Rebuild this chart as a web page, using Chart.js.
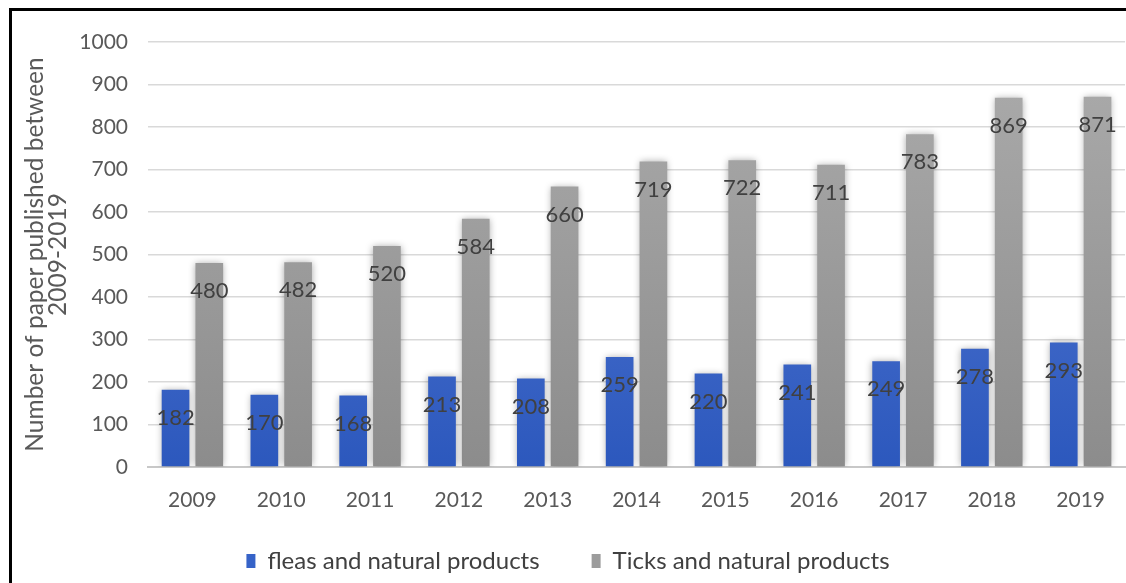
<!DOCTYPE html>
<html>
<head>
<meta charset="utf-8">
<script src="https://cdn.jsdelivr.net/npm/chart.js@4/dist/chart.umd.min.js"></script>
<style>
  html, body { margin: 0; padding: 0; background: #fff; }
  #wrap { position: relative; width: 1126px; height: 583px; overflow: hidden; }
  #frame { position: absolute; left: 9px; top: 8px; width: 1200px; height: 700px;
           border-left: 3px solid #000; border-top: 3px solid #000; }
  canvas { position: absolute; left: 0; top: 0; }
</style>
</head>
<body>
<div id="wrap">
  <div id="frame"></div>
  <canvas id="myChart" width="1126" height="583"></canvas>
</div>
<script>
// values
var years = ['2009', '2010', '2011', '2012', '2013', '2014', '2015', '2016', '2017', '2018', '2019'];
var fleas = [182, 170, 168, 213, 208, 259, 220, 241, 249, 278, 293];
var ticks = [480, 482, 520, 584, 660, 719, 722, 711, 783, 869, 871];
var yTicks = [0, 100, 200, 300, 400, 500, 600, 700, 800, 900, 1000];

var FONT = 'Lato, "Open Sans", sans-serif';

function grad(ctx, top, bottom) {
  var area = ctx.chart.chartArea;
  if (!area) return bottom;
  var g = ctx.chart.ctx.createLinearGradient(0, area.top, 0, area.bottom);
  g.addColorStop(0, top);
  g.addColorStop(1, bottom);
  return g;
}

// soft glow around the bars
var barShadow = {
  id: 'barShadow',
  beforeDatasetsDraw: function(chart) {
    var c = chart.ctx;
    c.save();
    c.shadowColor = 'rgba(0,0,0,0.35)';
    c.shadowBlur = 7;
  },
  afterDatasetsDraw: function(chart) {
    chart.ctx.restore();
  }
};

// value labels a little below each bar top
var valueLabels = {
  id: 'valueLabels',
  afterDatasetsDraw: function(chart) {
    var c = chart.ctx;
    c.save();
    c.font = '22px ' + FONT;
    c.fillStyle = '#404040';
    c.textAlign = 'center';
    c.textBaseline = 'middle';
    chart.data.datasets.forEach(function(ds, i) {
      chart.getDatasetMeta(i).data.forEach(function(bar, j) {
        c.fillText(ds.data[j], bar.x, bar.y + 28);
      });
    });
    c.restore();
  }
};

// x axis box is kept short so the wide legend fits; let its labels spill below
var xLabelRoom = {
  id: 'xLabelRoom',
  afterLayout: function(chart) {
    chart.scales.x.bottom = chart.height;
  }
};

var ctx = document.getElementById('myChart').getContext('2d');
var chart = new Chart(ctx, {
  type: 'bar',
  data: {
    labels: years,
    datasets: [{
      label: 'fleas and natural products',
      data: fleas,
      backgroundColor: function(c) { return grad(c, '#5d80d8', '#2c58bd'); }
    }, {
      label: 'Ticks and natural products',
      data: ticks,
      backgroundColor: function(c) { return grad(c, '#acacac', '#8c8c8c'); }
    }]
  },
  options: {
    responsive: false,
    animation: false,
    layout: { padding: { left: 10, top: 42, right: 0, bottom: 0 } },
    datasets: {
      bar: { categoryPercentage: 0.76, barPercentage: 0.82 }
    },
    plugins: {
      tooltip: { enabled: false },
      legend: {
        position: 'bottom',
        labels: {
          font: { family: FONT, size: 24 },
          color: '#404040',
          boxWidth: 9,
          boxHeight: 14,
          padding: 52,
          generateLabels: function(chart) {
            var cols = ['#3663c8', '#9c9c9c'];
            return chart.data.datasets.map(function(ds, i) {
              return { text: ds.label, fillStyle: cols[i], strokeStyle: cols[i], lineWidth: 0, datasetIndex: i, fontColor: '#404040' };
            });
          }
        }
      }
    },
    scales: {
      x: {
        grid: { display: false, drawTicks: false },
        border: { color: '#c8c8c8', width: 2 },
        ticks: { font: { family: FONT, size: 21 }, color: '#595959', padding: 21 },
        afterFit: function(s) { s.height = 30; }
      },
      y: {
        min: 0,
        max: 1000,
        afterBuildTicks: function(s) { s.ticks = yTicks.map(function(v) { return { value: v }; }); },
        grid: { color: '#d9d9d9', lineWidth: 1.5, drawTicks: false },
        border: { display: false },
        ticks: {
          font: { family: FONT, size: 21 },
          color: '#595959',
          padding: 20,
          callback: function(v) { return String(v); }
        },
        title: {
          display: true,
          text: ['Number of paper published between', '2009-2019'],
          font: { family: FONT, size: 24.5, lineHeight: 0.95 },
          color: '#595959',
          padding: { top: 13, bottom: 0 }
        },
        afterFit: function(s) { s.width = 138; }
      }
    }
  },
  plugins: [barShadow, valueLabels, xLabelRoom]
});
</script>
</body>
</html>
